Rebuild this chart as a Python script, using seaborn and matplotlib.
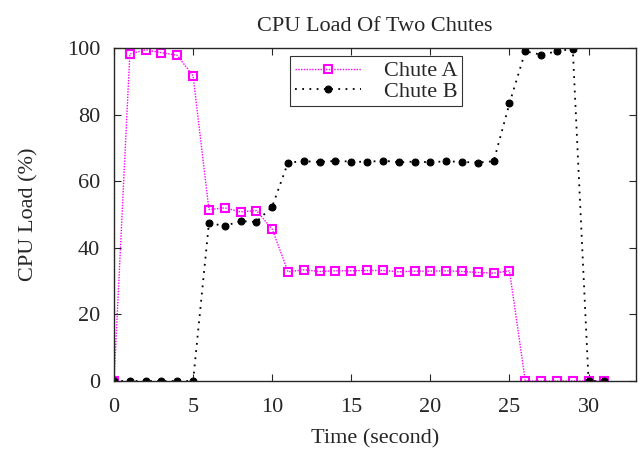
import matplotlib
matplotlib.use("Agg")
import matplotlib.pyplot as plt
import pandas as pd
import seaborn as sns

time_s = list(range(32))
chute_a = [0, 98.2, 99.5, 98.6, 97.8, 91.6, 51.5, 52.0, 50.8, 51.2, 45.6,
           32.8, 33.4, 32.9, 33.1, 33.1, 33.2, 33.2, 32.8, 33.0, 33.0, 33.1,
           32.9, 32.6, 32.4, 33.1, 0, 0, 0, 0, 0, 0]
chute_b = [0, 0, 0, 0, 0, 0, 47.4, 46.6, 48.0, 47.8, 52.4,
           65.6, 66.0, 65.8, 66.1, 65.9, 65.8, 66.2, 65.7, 65.9, 65.7, 66.0,
           65.8, 65.6, 66.0, 83.4, 99.0, 98.0, 99.0, 99.8, 0, 0]

df = pd.DataFrame({"time": time_s, "Chute A": chute_a, "Chute B": chute_b})

sns.set_style("ticks")
plt.rcParams["font.family"] = ["Liberation Serif", "DejaVu Serif"]

fig = plt.figure(figsize=(6.42, 4.49), dpi=100)
ax = fig.add_axes([0.1776, 0.1514, 0.8131, 0.7416])

sns.lineplot(data=df, x="time", y="Chute A", ax=ax, color="#ff00ff",
             linestyle=(0, (1, 1)), linewidth=1.0, marker="s", markersize=5.5,
             markerfacecolor="none", markeredgecolor="#ff00ff",
             markeredgewidth=1.5, label="Chute A")
sns.lineplot(data=df, x="time", y="Chute B", ax=ax, color="black",
             linestyle=(0, (1, 3)), linewidth=1.3, marker="o", markersize=5,
             markerfacecolor="black", markeredgecolor="black",
             label="Chute B")

ax.set_xlim(0, 33)
ax.set_ylim(0, 100)
ax.set_xticks([0, 5, 10, 15, 20, 25, 30])
ax.set_yticks([0, 20, 40, 60, 80, 100])
ax.tick_params(direction="in", top=True, right=True, length=5, width=0.8,
               labelsize=16)
ax.tick_params(axis="x", pad=12)
ax.tick_params(axis="y", pad=10)
for s in ax.spines.values():
    s.set_linewidth(1.0)
    s.set_visible(True)

ax.set_title("CPU Load Of Two Chutes", fontsize=16, pad=12)
ax.set_xlabel("Time (second)", fontsize=16, labelpad=9)
ax.set_ylabel("CPU Load (%)", fontsize=16, labelpad=20)

leg = ax.legend(loc="upper center", bbox_to_anchor=(0.502, 0.975),
                fontsize=16, frameon=True, fancybox=False, numpoints=1,
                handlelength=3.0, borderpad=0.2, labelspacing=0.0,
                handletextpad=1.0, borderaxespad=0.0)
leg.get_frame().set_edgecolor("black")
leg.get_frame().set_linewidth(0.8)

fig.savefig("out.png", dpi=100)
plt.close(fig)
